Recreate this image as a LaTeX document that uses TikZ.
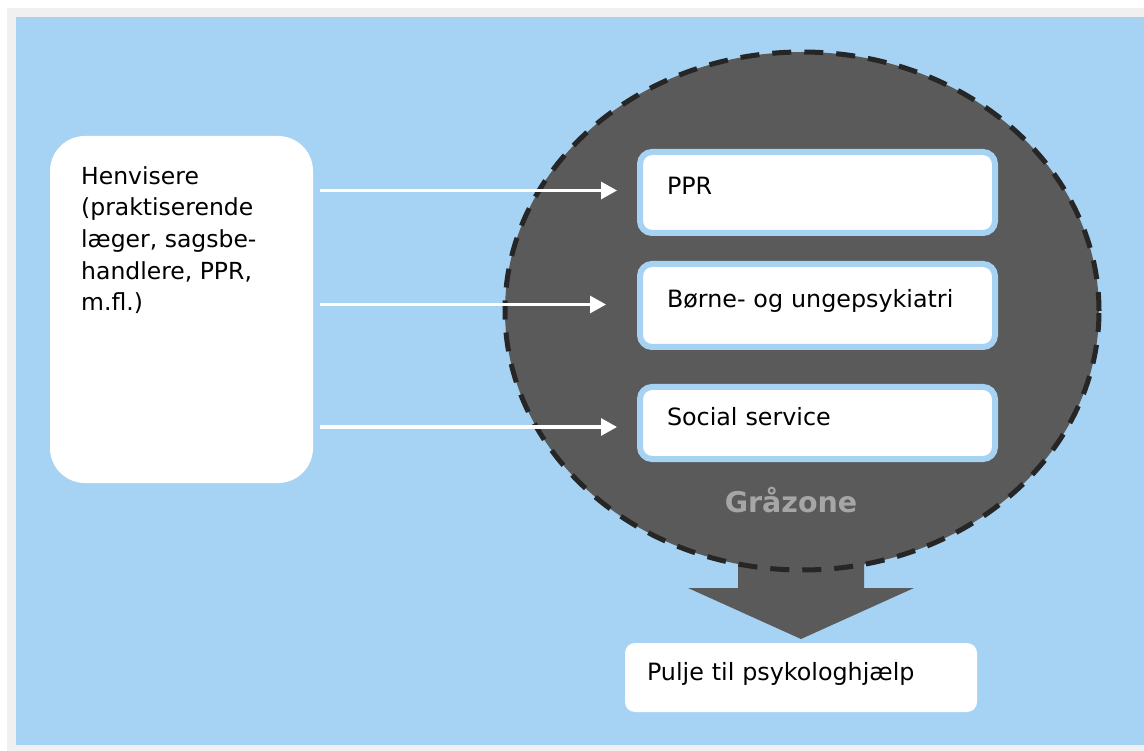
\documentclass[tikz,border=0pt]{standalone}
\usepackage{fontspec}
\setmainfont{DejaVu Sans}
\usetikzlibrary{arrows.meta}
\definecolor{skyblue}{HTML}{A6D3F4}
\definecolor{zonegray}{HTML}{5A5A5A}
\definecolor{framegray}{HTML}{F0F0F0}
\definecolor{dashgray}{HTML}{262626}
\definecolor{labelgray}{HTML}{A6A6A6}

\begin{document}
\begin{tikzpicture}[x=1pt,y=-1pt,
  box/.style={draw=skyblue,line width=6pt,fill=white,rounded corners=12pt,text width=301pt,inner xsep=27pt,
    align=left,text height=17pt,text depth=12pt,font=\fontsize{23.8}{30}\selectfont},
  flow/.style={white,line width=3pt,-{Triangle[length=16pt,width=17pt]}}]
\useasboundingbox (0,0) rectangle (1144,751);
\fill[framegray] (7,8) rectangle (1144,751);
\fill[skyblue] (16,17) rectangle (1144,745);
\fill[zonegray] (738,540) -- (864,540) -- (864,588) -- (914,588) -- (801,639) -- (688,588) -- (738,588) -- cycle;
\filldraw[fill=zonegray,draw=dashgray,line width=5pt,dash pattern=on 19pt off 13pt]
  (802,311) ellipse [x radius=297pt,y radius=259pt];
\node[anchor=base,text=labelgray,font=\bfseries\fontsize{28.5}{34}\selectfont] (graa) at (791,512) {Gråzone};
\node[box,minimum height=81pt] (ppr) at (817.5,192.5) {PPR};
\node[box,minimum height=83pt] (bup) at (817.5,305.5) {Børne- og ungepsykiatri};
\node[box,minimum height=72pt] (social) at (817.5,423) {Social service};
\node[fill=white,rounded corners=35pt,minimum width=263pt,minimum height=347pt] (henv) at (181.5,309.5) {};
\node[anchor=north west,inner sep=0pt,align=left,font=\fontsize{23.5}{31.7}\selectfont] (henvtxt) at (81,166)
  {Henvisere\\(praktiserende\\læger, sagsbe-\\handlere, PPR,\\m.fl.)};
\foreach \b/\s/\d in {ppr/20/2,bup/31/1,social/20/-4}
  \draw[flow,shorten <=7pt,shorten >=\s pt] ([yshift=\d pt]henv.east |- \b.west) -- ([yshift=\d pt]\b.west);
\node[box,draw=none,rounded corners=10pt,text width=308pt,inner xsep=22pt,minimum height=69pt] (pulje) at (801,677.5)
  {Pulje til psykologhjælp};
\end{tikzpicture}
\end{document}
